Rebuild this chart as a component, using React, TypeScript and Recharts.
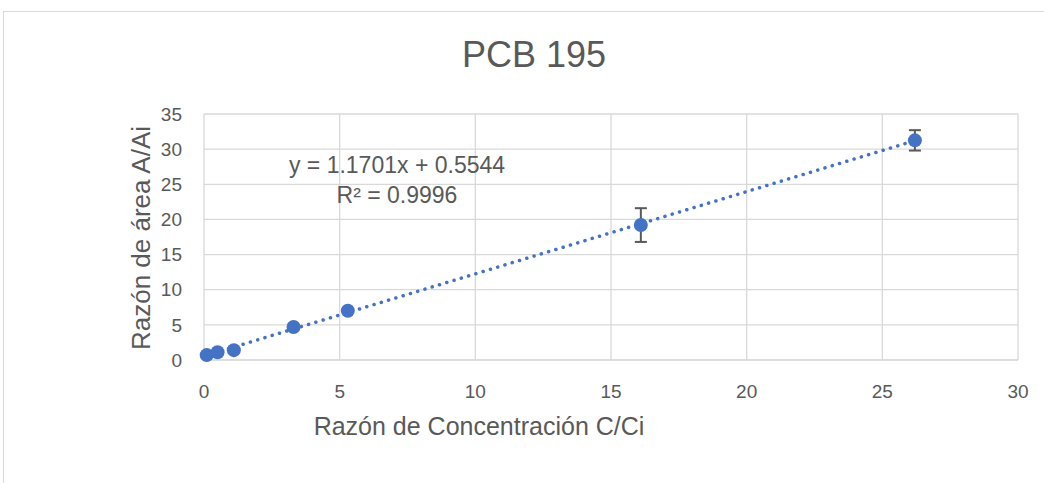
import { ScatterChart, Scatter, XAxis, YAxis, CartesianGrid, ErrorBar } from "recharts";

const concRatio = [0.1, 0.5, 1.1, 3.3, 5.3, 16.1, 26.2];
const areaRatio = [0.7, 1.1, 1.4, 4.7, 7.0, 19.2, 31.25];
const areaError: (number | null)[] = [null, null, null, null, null, 2.4, 1.45];
const xTicks = [0, 5, 10, 15, 20, 25, 30];
const yTicks = [0, 5, 10, 15, 20, 25, 30, 35];
const slope = 1.1701;
const intercept = 0.5544;
const r2 = 0.9996;

const points = concRatio.map((x, i) => ({ x, y: areaRatio[i], err: areaError[i] }));
const xMin = Math.min(...concRatio);
const xMax = Math.max(...concRatio);
const trend = [xMin, xMax].map((x) => ({ x, y: slope * x + intercept }));

const blue = "#4472C4";
const grey = "#595959";
const font = "'Liberation Sans', Arial, sans-serif";

const Dot = (p: any) => <circle cx={p.cx} cy={p.cy} r={7} fill={blue} />;

export default function App() {
  return (
    <div style={{ position: "absolute", left: 0, top: 0, width: 1044, height: 483, background: "#fff", fontFamily: font }}>
      <div style={{ position: "absolute", left: 3, top: 11, right: 0, bottom: 0, borderTop: "1px solid #d9d9d9", borderLeft: "1px solid #d9d9d9" }} />
      <ScatterChart width={1044} height={483} margin={{ top: 114, right: 26, bottom: 93, left: 0 }}>
        <CartesianGrid stroke="#d9d9d9" strokeWidth={1.3} />
        <XAxis
          type="number" dataKey="x" domain={[0, 30]} ticks={xTicks}
          axisLine={{ stroke: "#d9d9d9" }} tickLine={false} tickSize={0} tickMargin={25}
          tick={{ fill: grey, fontSize: 19, fontFamily: font }}
        />
        <YAxis
          type="number" dataKey="y" domain={[0, 35]} ticks={yTicks} width={204}
          axisLine={false} tickLine={false} tickSize={0} tickMargin={22}
          tick={{ fill: grey, fontSize: 19, fontFamily: font }}
        />
        <Scatter
          data={trend} isAnimationActive={false} shape={() => null}
          line={{ stroke: blue, strokeWidth: 3.5, strokeDasharray: "0.1 7.5", strokeLinecap: "round" }}
        />
        <Scatter data={points} fill={blue} shape={Dot} isAnimationActive={false}>
          <ErrorBar dataKey="err" direction="y" stroke={grey} strokeWidth={2} width={6} />
        </Scatter>
      </ScatterChart>
      <svg width={1044} height={483} style={{ position: "absolute", left: 0, top: 0, pointerEvents: "none" }}>
        <text x={534} y={67} textAnchor="middle" fontSize={36} fill={grey} fontFamily={font}>PCB 195</text>
        <text x={397} y={173} textAnchor="middle" fontSize={23} fill={grey} fontFamily={font}>
          {`y = ${slope}x + ${intercept}`}
        </text>
        <text x={397} y={203} textAnchor="middle" fontSize={23} fill={grey} fontFamily={font}>
          {`R² = ${r2}`}
        </text>
        <text x={479} y={435} textAnchor="middle" fontSize={25} fill={grey} fontFamily={font}>Razón de Concentración C/Ci</text>
        <text x={150} y={238} textAnchor="middle" fontSize={26} fill={grey} fontFamily={font} transform="rotate(-90 150 238)">
          Razón de área A/Ai
        </text>
      </svg>
    </div>
  );
}
